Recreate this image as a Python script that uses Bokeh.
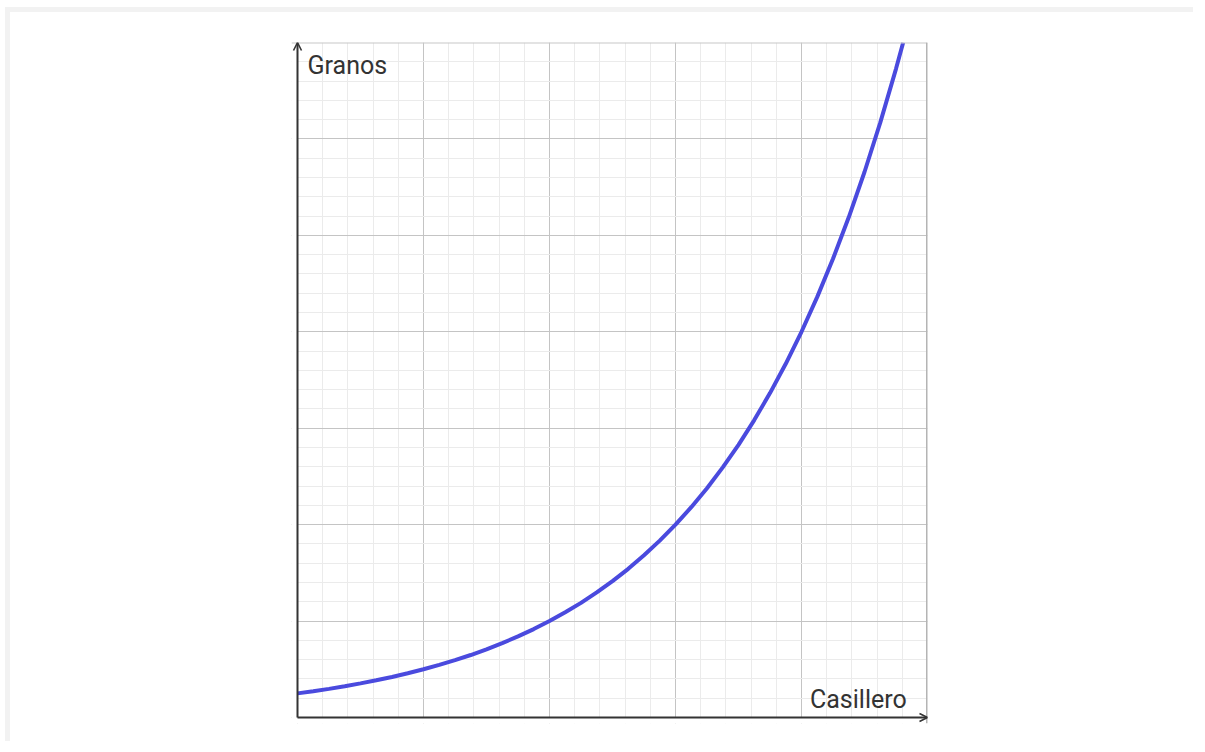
from bokeh.plotting import figure
from bokeh.models import Arrow, OpenHead, SingleIntervalTicker, Range1d, Span, BoxAnnotation
from bokeh.core.properties import value
from bokeh.embed import file_html
from bokeh.resources import INLINE

# Data (grid units: one major cell per unit)
casillero = [0, 0.125, 0.25, 0.375, 0.5, 0.625, 0.75, 0.875,
             1.0, 1.125, 1.25, 1.375, 1.5, 1.625, 1.75, 1.875,
             2.0, 2.125, 2.25, 2.375, 2.5, 2.625, 2.75, 2.875,
             3.0, 3.125, 3.25, 3.375, 3.5, 3.625, 3.75, 3.875,
             4.0, 4.125, 4.25, 4.375, 4.5, 4.625, 4.75, 4.807]
granos = [0.250, 0.273, 0.297, 0.324, 0.354, 0.386, 0.420, 0.459,
          0.500, 0.545, 0.595, 0.648, 0.707, 0.771, 0.841, 0.917,
          1.000, 1.091, 1.189, 1.297, 1.414, 1.542, 1.682, 1.834,
          2.000, 2.181, 2.378, 2.594, 2.828, 3.084, 3.364, 3.668,
          4.000, 4.362, 4.757, 5.187, 5.657, 6.169, 6.727, 7.000]
x_label = "Casillero"
y_label = "Granos"
x_max = 5.0
y_max = 7.0

# frame: 630 x 675 px for the grid, plus a 6 px strip left and below for arrowheads
pad_x = 6 * x_max / 630
pad_y = 6 * y_max / 675

W, H = 1188, 734
left, top = 281, 30
fw, fh = 636, 681

p = figure(width=W, height=H, output_backend="svg", toolbar_location=None,
           x_range=Range1d(-pad_x, x_max), y_range=Range1d(-pad_y, y_max),
           min_border_left=left, min_border_right=W - left - fw,
           min_border_top=top, min_border_bottom=H - top - fh,
           background_fill_color="white", border_fill_color="white",
           styles={"margin-top": "7px", "margin-left": "5px",
                   "border-top": "5px solid #f2f2f2", "border-left": "5px solid #f2f2f2"})
p.axis.visible = False
p.outline_line_color = None

for g in (p.xgrid, p.ygrid):
    g.ticker = SingleIntervalTicker(interval=1, num_minor_ticks=5)
    g.grid_line_color = "#c4c4c4"
    g.grid_line_width = 1
    g.minor_grid_line_color = "#ebebeb"
    g.minor_grid_line_width = 1

p.line(casillero, granos, line_color="#4a4ade", line_width=4)

# white strips hiding the grid outside the axes
p.add_layout(BoxAnnotation(right=0, fill_color="white", fill_alpha=1, line_color=None, level="glyph"))
p.add_layout(BoxAnnotation(top=0, fill_color="white", fill_alpha=1, line_color=None, level="glyph"))

# top and right borders of the grid
p.add_layout(Span(location=y_max, dimension="width", line_color="#c8c8c8", line_width=2))
p.add_layout(Span(location=x_max, dimension="height", line_color="#b4b4b4", line_width=3))

ax_col = "#333333"
p.add_layout(Arrow(end=OpenHead(size=8, line_color=ax_col, line_width=1.6),
                   x_start=0, y_start=0, x_end=x_max, y_end=0,
                   line_color=ax_col, line_width=2))
p.add_layout(Arrow(end=OpenHead(size=8, line_color=ax_col, line_width=1.6),
                   x_start=0, y_start=0, x_end=0, y_end=y_max,
                   line_color=ax_col, line_width=2))

p.text(x=[0.08], y=[6.765], text=[y_label], text_font=value("Roboto"),
       text_font_size="25px", text_color="#333333", text_baseline="alphabetic",
       text_align="left")
p.text(x=[4.835], y=[0.19], text=[x_label], text_font=value("Roboto"),
       text_font_size="25px", text_color="#333333", text_baseline="alphabetic",
       text_align="right")

open("out.html", "w").write(file_html(p, INLINE))
